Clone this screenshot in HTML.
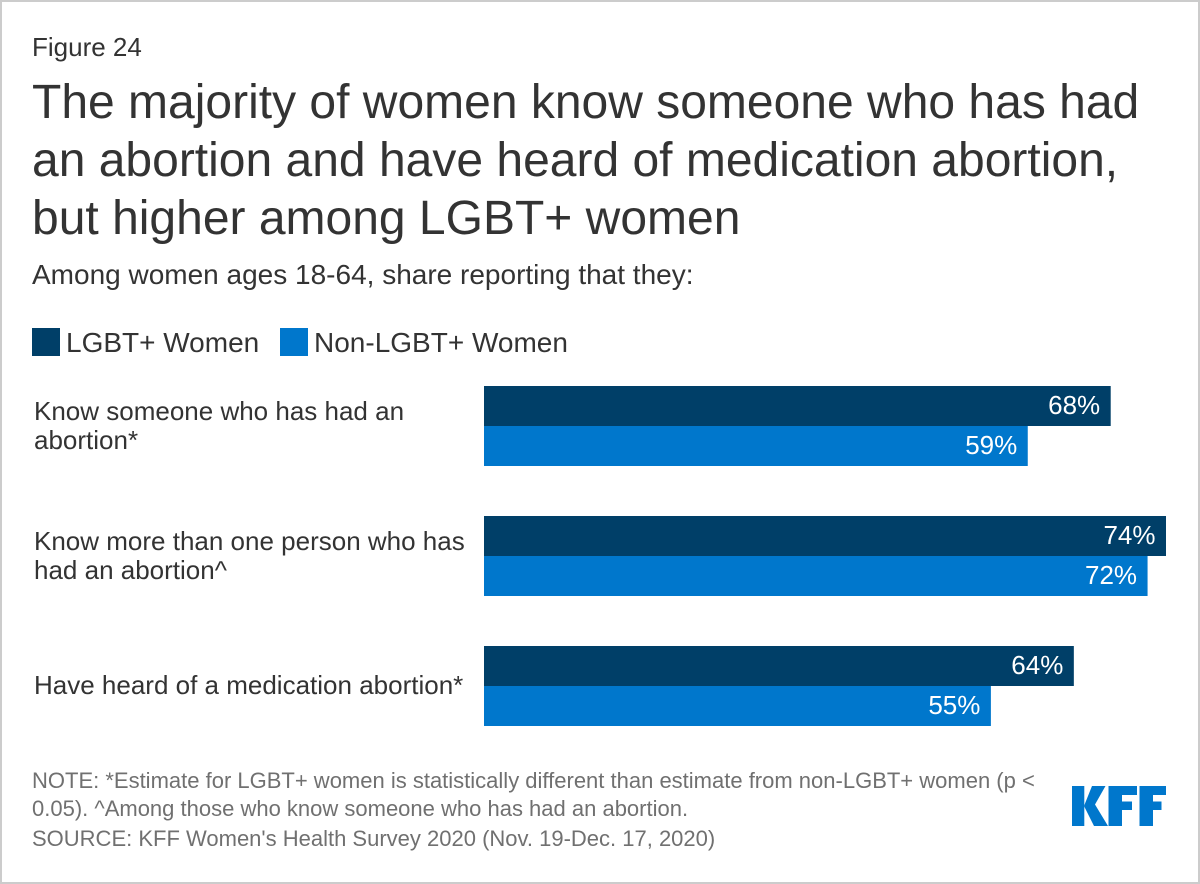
<!DOCTYPE html>
<html lang="en">
<head>
<meta charset="utf-8">
<title>Figure 24</title>
<style>
html,body{margin:0;padding:0;background:#fff;}
body{width:1200px;height:884px;overflow:hidden;}
svg{display:block;font-family:"Liberation Sans",Arial,sans-serif;}
</style>
</head>
<body>
<svg id="chart" width="1200" height="884" viewBox="0 0 1200 884">
<rect x="1" y="1" width="1198" height="882" fill="#fff" stroke="#ccc" stroke-width="2"/>
<text x="32" y="56" font-size="26" fill="#333">Figure 24</text>
<g font-size="48" fill="#333">
<text x="32" y="118">The majority of women know someone who has had</text>
<text x="32" y="176">an abortion and have heard of medication abortion,</text>
<text x="32" y="234">but higher among LGBT+ women</text>
</g>
<text x="32" y="284" font-size="28" fill="#333">Among women ages 18-64, share reporting that they:</text>
<g>
<rect x="32" y="328" width="28" height="28" fill="#003f68"/>
<text x="66" y="352" font-size="28" fill="#333">LGBT+ Women</text>
<rect x="280" y="328" width="28" height="28" fill="#0077cc"/>
<text x="314" y="352" font-size="28" fill="#333">Non-LGBT+ Women</text>
</g>
<g id="bars"></g>
<g font-size="22" fill="#707070">
<text x="32" y="788">NOTE: *Estimate for LGBT+ women is statistically different than estimate from non-LGBT+ women (p &lt;</text>
<text x="32" y="816">0.05). ^Among those who know someone who has had an abortion.</text>
<text x="32" y="846">SOURCE: KFF Women's Health Survey 2020 (Nov. 19-Dec. 17, 2020)</text>
</g>
<g fill="#0077cc">
<path d="M1072 786h12.3v40h-12.3z"/>
<path d="M1092 786h13.5l-10.5 18.5 13 21.5h-14l-10-20z"/>
<path d="M1108.500 786h28.500v9h-15v6.500h10v8.500h-10v16h-13.500z"/>
<path d="M1139.500 786h26.500v9h-13v6.500h8.500v8.500h-8.500v16h-13.500z"/>
</g>
</svg>
<script>
var categories = [
  ["Know someone who has had an", "abortion*"],
  ["Know more than one person who has", "had an abortion^"],
  ["Have heard of a medication abortion*"]
];
var lgbtValues = [68, 74, 64];
var nonLgbtValues = [59, 72, 55];

var NS = "http://www.w3.org/2000/svg";
var barsGroup = document.getElementById("bars");
var x0 = 484, pxPerPoint = 682 / 74, groupTop = 386, groupStep = 130, barH = 40;
function xScale(v) { return v * pxPerPoint; }
function yGroup(i) { return groupTop + i * groupStep; }
function addBar(v, y, fill, name) {
  var r = document.createElementNS(NS, "rect");
  r.setAttribute("x", x0);
  r.setAttribute("y", y);
  r.setAttribute("width", xScale(v));
  r.setAttribute("height", barH);
  r.setAttribute("fill", fill);
  
  
  barsGroup.appendChild(r);
  var t = document.createElementNS(NS, "text");
  t.setAttribute("x", x0 + xScale(v) - 10.5);
  t.setAttribute("y", y + 28);
  t.setAttribute("text-anchor", "end");
  t.setAttribute("font-size", "26");
  t.setAttribute("fill", "#fff");
  t.textContent = v + "%";
  
  
  barsGroup.appendChild(t);
}
categories.forEach(function (lines, i) {
  var top = yGroup(i);
  var startY = lines.length === 2 ? top + 34 : top + 48;
  lines.forEach(function (line, j) {
    var t = document.createElementNS(NS, "text");
    t.setAttribute("x", 34);
    t.setAttribute("y", startY + j * 29);
    t.setAttribute("font-size", "26");
    t.setAttribute("fill", "#333");
    t.textContent = line;
    
    
    barsGroup.appendChild(t);
  });
  addBar(lgbtValues[i], top, "#003f68", "bar-lgbt");
  addBar(nonLgbtValues[i], top + barH, "#0077cc", "bar-non-lgbt");
});
</script>
</body>
</html>
